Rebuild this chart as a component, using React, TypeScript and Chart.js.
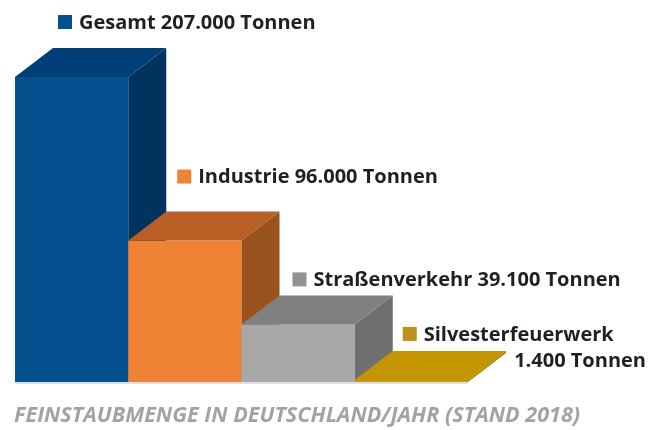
import React, { useEffect, useRef } from "react";
import { Chart, registerables } from "chart.js";

Chart.register(...registerables);

const categories = ["Gesamt", "Industrie", "Straßenverkehr", "Silvesterfeuerwerk"];
const values = [207000, 96000, 39100, 1400];
const labelLines = [
  ["Gesamt 207.000 Tonnen"],
  ["Industrie 96.000 Tonnen"],
  ["Straßenverkehr 39.100 Tonnen"],
  ["Silvesterfeuerwerk", "1.400 Tonnen"],
];
const caption = "FEINSTAUBMENGE IN DEUTSCHLAND/JAHR (STAND 2018)";

const frontColors = ["#04508f", "#ef8234", "#a8a8a8", "#c99a10"];
const topColors = ["#003e78", "#b85f25", "#808080", "#c49500"];
const sideColors = ["#00345f", "#9a521f", "#6f6f6f", "#a67e00"];
const squareColors = ["#04508f", "#ef8234", "#909496", "#c0901a"];

const DX = 38;
const DY = 29;

const box3d = {
  id: "box3d",
  afterDatasetsDraw(chart: any) {
    const ctx = chart.ctx;
    const meta = chart.getDatasetMeta(0);
    ctx.save();
    meta.data.forEach((bar: any, i: number) => {
      const { x, y, base, width } = bar.getProps(["x", "y", "base", "width"], true);
      const l = x - width / 2;
      const r = x + width / 2;
      ctx.fillStyle = frontColors[i];
      ctx.fillRect(l, y, r - l, base - y);
      ctx.fillStyle = sideColors[i];
      ctx.beginPath();
      ctx.moveTo(r, y);
      ctx.lineTo(r + DX, y - DY);
      ctx.lineTo(r + DX, base - DY);
      ctx.lineTo(r, base);
      ctx.closePath();
      ctx.fill();
      ctx.fillStyle = topColors[i];
      ctx.beginPath();
      ctx.moveTo(l, y);
      ctx.lineTo(l + DX, y - DY);
      ctx.lineTo(r + DX, y - DY);
      ctx.lineTo(r, y);
      ctx.closePath();
      ctx.fill();
    });
    const first = meta.data[0].getProps(["x", "base", "width"], true);
    const last = meta.data[meta.data.length - 1].getProps(["x", "base", "width"], true);
    ctx.strokeStyle = "#d0d4dc";
    ctx.lineWidth = 1.5;
    ctx.beginPath();
    ctx.moveTo(first.x - first.width / 2, first.base + 1);
    ctx.lineTo(last.x + last.width / 2, first.base + 1);
    ctx.stroke();

    ctx.font = "bold 20px 'Open Sans', sans-serif";
    ctx.textBaseline = "middle";
    const offsets = [43, 49, 51, 48];
    const yOff = [-26, -35, -16, -17];
    meta.data.forEach((bar: any, i: number) => {
      const { x, y, width } = bar.getProps(["x", "y", "width"], true);
      const l = x - width / 2;
      const sx = l + offsets[i];
      const sy = y - DY + yOff[i];
      ctx.fillStyle = squareColors[i];
      ctx.fillRect(sx, sy - 7, 14, 14);
      ctx.fillStyle = "#231f20";
      ctx.textAlign = "left";
      ctx.fillText(labelLines[i][0], sx + 21, sy + 1);
      if (labelLines[i][1]) {
        ctx.textAlign = "right";
        ctx.fillText(labelLines[i][1], 646, sy + 27);
      }
    });

    ctx.font = "italic bold 21.6px 'Open Sans', sans-serif";
    ctx.fillStyle = "#a3a3a3";
    ctx.textAlign = "left";
    ctx.fillText(caption, 14, 416);
    ctx.restore();
  },
};

export default function App() {
  const ref = useRef<HTMLCanvasElement>(null);
  useEffect(() => {
    if (!ref.current) return;
    const chart = new Chart(ref.current, {
      type: "bar",
      data: {
        labels: categories,
        datasets: [
          {
            data: values,
            backgroundColor: "rgba(0,0,0,0)",
            categoryPercentage: 1,
            barPercentage: 1,
          },
        ],
      },
      options: {
        responsive: false,
        animation: false,
        layout: { padding: { left: 15, right: 192, top: 77, bottom: 48 } },
        plugins: { legend: { display: false }, tooltip: { enabled: false } },
        scales: {
          x: { display: false },
          y: { display: false, min: 0, max: 207000 },
        },
      },
      plugins: [box3d],
    });
    return () => chart.destroy();
  }, []);
  return (
    <div style={{ position: "fixed", left: 0, top: 0, width: 660, height: 430, background: "#fff" }}>
      <canvas ref={ref} width={660} height={430} />
    </div>
  );
}
